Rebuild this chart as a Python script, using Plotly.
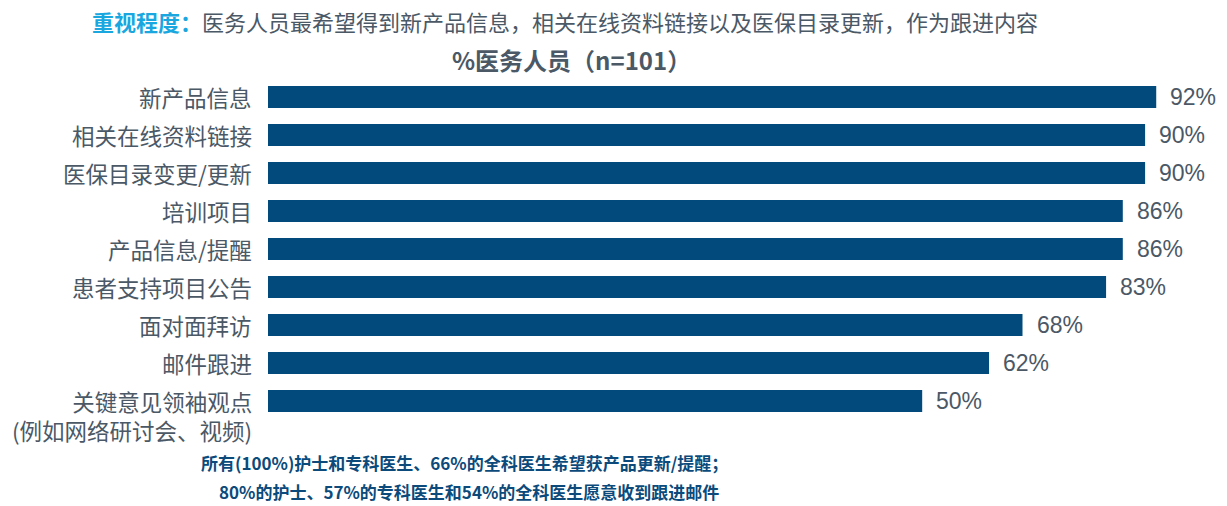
import plotly.graph_objects as go

categories = [
    "新产品信息",
    "相关在线资料链接",
    "医保目录变更/更新",
    "培训项目",
    "产品信息/提醒",
    "患者支持项目公告",
    "面对面拜访",
    "邮件跟进",
    "关键意见领袖观点<br>(例如网络研讨会、视频)",
]
values = [92, 90, 90, 86, 86, 83, 68, 62, 50]
value_labels = ["92%", "90%", "90%", "86%", "86%", "83%", "68%", "62%", "50%"]

title_highlight = "重视程度："
title_rest = "医务人员最希望得到新产品信息，相关在线资料链接以及医保目录更新，作为跟进内容"
subtitle = "%医务人员（n=101）"
footnote_1 = "所有(100%)护士和专科医生、66%的全科医生希望获产品更新/提醒；"
footnote_2 = "80%的护士、57%的专科医生和54%的全科医生愿意收到跟进邮件"

AXIS_START = -67.4   # the original chart's value axis does not start at zero
AXIS_END = 104.7

BAR = "#024A7B"
GRAY = "#4B5866"
BLUE = "#1AA7E0"
DARK = "#0B4A7A"
CJK = "Noto Sans CJK SC, Liberation Sans, Arial, sans-serif"
LAT = "Liberation Sans, Arial, Noto Sans CJK SC, sans-serif"

fig = go.Figure()
fig.add_trace(go.Bar(
    y=categories,
    x=[v - AXIS_START for v in values],
    base=AXIS_START,
    orientation="h",
    marker=dict(color=BAR, line=dict(width=0)),
    width=0.58,
    hoverinfo="skip",
))

annotations = []
# value labels
for c, v, t in zip(categories, values, value_labels):
    annotations.append(dict(
        x=v, y=c, xref="x", yref="y", text=t, showarrow=False,
        xanchor="left", yanchor="middle", xshift=12,
        font=dict(family=LAT, size=23, color=GRAY),
    ))
# category labels (a two-line label keeps its first line level with its bar)
for c in categories:
    n_lines = c.count("<br>") + 1
    annotations.append(dict(
        x=0, y=c, xref="paper", yref="y", text=c, showarrow=False,
        xanchor="right", yanchor="middle", yshift=-14.5 * (n_lines - 1),
        xshift=-14, align="right",
        font=dict(family=CJK, size=22.5, color=GRAY),
    ))
# title
annotations.append(dict(
    x=0.31, y=1.166, xref="paper", yref="paper", showarrow=False,
    xanchor="center", yanchor="middle",
    text=f"<b><span style='color:{BLUE}'>{title_highlight}</span></b>{title_rest}",
    font=dict(family=CJK, size=22, color=GRAY),
))
annotations.append(dict(
    x=0.316, y=1.053, xref="paper", yref="paper", showarrow=False,
    xanchor="center", yanchor="middle",
    text=f"<b>{subtitle}</b>",
    font=dict(family=CJK, size=24, color=GRAY),
))
annotations.append(dict(
    x=0.205, y=-0.123, xref="paper", yref="paper", showarrow=False,
    xanchor="center", yanchor="middle",
    text=f"<b>{footnote_1}</b>",
    font=dict(family=CJK, size=17, color=DARK),
))
annotations.append(dict(
    x=0.21, y=-0.21, xref="paper", yref="paper", showarrow=False,
    xanchor="center", yanchor="middle",
    text=f"<b>{footnote_2}</b>",
    font=dict(family=CJK, size=17, color=DARK),
))

fig.update_layout(
    width=1227, height=506,
    margin=dict(l=268, r=0, t=78, b=86),
    paper_bgcolor="white", plot_bgcolor="white",
    showlegend=False,
    xaxis=dict(range=[AXIS_START, AXIS_END], visible=False, fixedrange=True),
    yaxis=dict(categoryorder="array", categoryarray=categories,
               autorange="reversed", showticklabels=False, showgrid=False,
               zeroline=False, showline=False, ticks="", fixedrange=True),
    annotations=annotations,
)

fig.write_html(
    "out.html",
    config={"displayModeBar": False},
    post_script="document.body.style.margin='0';document.body.style.padding='0';"
                "document.body.style.overflow='hidden';",
)
